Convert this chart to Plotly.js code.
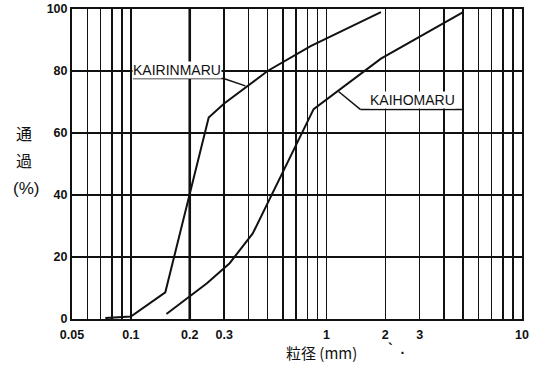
<!DOCTYPE html>
<html>
<head>
<meta charset="utf-8">
<script src="https://cdn.plot.ly/plotly-3.0.1.min.js"></script>
<style>
  html, body { margin: 0; padding: 0; background: #fff; }
  #chart { width: 539px; height: 366px; }
</style>
</head>
<body>
<div id="chart"></div>
<script>
// Grain size distribution (passing percentage vs. grain diameter, log scale)
const kairinmaruSize = [0.074, 0.1, 0.15, 0.25, 0.3, 0.4, 0.5, 0.83, 1.9];
const kairinmaruPass = [0.3, 0.8, 8.6, 65, 69.5, 75.5, 80, 88, 99];

const kaihomaruSize = [0.152, 0.245, 0.32, 0.42, 0.86, 1.9, 5.0];
const kaihomaruPass = [1.6, 11.5, 18, 27.6, 67.7, 84, 99];

// Vertical grid positions and their labels (blank = unlabeled grid line)
const xGridVals = [0.05, 0.06, 0.07, 0.08, 0.09, 0.1, 0.2, 0.3, 0.4, 0.5, 0.6, 0.7, 0.8, 0.9,
                   1, 2, 3, 4, 5, 6, 7, 8, 9, 10];
const xGridText = ['0.05', '', '', '', '', '0.1', '0.2', '0.3', '', '', '', '', '', '',
                   '1', '2', '3', '', '', '', '', '', '', '10'];
const yTickVals = [0, 20, 40, 60, 80, 100];

const ink = '#111';
const lineStyle = { color: ink, width: 2 };

const traces = [
  { x: kairinmaruSize, y: kairinmaruPass, mode: 'lines', line: lineStyle, hoverinfo: 'skip', name: 'KAIRINMARU' },
  { x: kaihomaruSize, y: kaihomaruPass, mode: 'lines', line: lineStyle, hoverinfo: 'skip', name: 'KAIHOMARU' }
];

const sans = 'Liberation Sans, Arial, sans-serif';
const tickFont = { family: sans, size: 12.5, color: ink, weight: 'bold' };
const labelFont = { family: sans, size: 14, color: ink };
const cjkFont = { family: 'Noto Sans CJK JP, Noto Sans CJK TC, sans-serif', size: 16, color: ink };

const layout = {
  width: 539,
  height: 366,
  margin: { l: 72, r: 17, t: 9, b: 47 },
  paper_bgcolor: '#fff',
  plot_bgcolor: '#fff',
  showlegend: false,
  xaxis: {
    type: 'log',
    range: [Math.log10(0.05), 1],
    tickmode: 'array',
    tickvals: xGridVals,
    ticktext: xGridText,
    showgrid: true,
    gridcolor: ink,
    gridwidth: 1.5,
    ticks: '',
    ticklabelstandoff: 3,
    showline: true,
    mirror: true,
    linecolor: ink,
    linewidth: 2,
    zeroline: false,
    tickfont: tickFont
  },
  yaxis: {
    range: [0, 100],
    tickmode: 'array',
    tickvals: yTickVals,
    showgrid: true,
    gridcolor: ink,
    gridwidth: 1.5,
    ticks: '',
    showline: true,
    mirror: true,
    linecolor: ink,
    linewidth: 2,
    zeroline: false,
    tickfont: tickFont
  },
  shapes: [
    // heavier grid line at 0.2 mm
    { type: 'line', xref: 'x', yref: 'y', x0: 0.2, x1: 0.2, y0: 0, y1: 100, line: { color: ink, width: 2.6 } },
    // KAIRINMARU underline and leader
    { type: 'line', xref: 'x', yref: 'y', x0: 0.1025, x1: 0.298, y0: 77.6, y1: 77.6, line: { color: ink, width: 1.5 } },
    { type: 'line', xref: 'x', yref: 'y', x0: 0.298, x1: 0.385, y0: 77.6, y1: 75.2, line: { color: ink, width: 1.5 } },
    // KAIHOMARU underline and leader
    { type: 'line', xref: 'x', yref: 'y', x0: 1.49, x1: 4.93, y0: 67.6, y1: 67.6, line: { color: ink, width: 1.5 } },
    { type: 'line', xref: 'x', yref: 'y', x0: 1.49, x1: 1.153, y0: 67.6, y1: 73.4, line: { color: ink, width: 1.5 } }
  ],
  annotations: [
    { x: Math.log10(0.173), y: 80.4, xref: 'x', yref: 'y', text: 'KAIRINMARU', showarrow: false,
      xanchor: 'center', yanchor: 'middle', font: labelFont, bgcolor: '#fff', borderpad: 0 },
    { x: Math.log10(2.76), y: 70.6, xref: 'x', yref: 'y', text: 'KAIHOMARU', showarrow: false,
      xanchor: 'center', yanchor: 'middle', font: labelFont, bgcolor: '#fff', borderpad: 0 },
    // vertical axis caption
    { px: 24, py: 133, text: '通', font: cjkFont },
    { px: 24, py: 160, text: '過', font: cjkFont },
    { px: 26, py: 188, text: '(%)', font: { family: sans, size: 17, color: ink } },
    // horizontal axis caption
    { px: 321, py: 352, text: '粒径 (mm)', font: { family: 'Noto Sans CJK JP, sans-serif', size: 15, color: ink } },
    { px: 396, py: 349, text: '`  .', font: { family: sans, size: 14, color: ink, weight: 'bold' } }
  ]
};

// Caption annotations are given in pixels from the top-left; convert to paper fractions.
const plotW = layout.width - layout.margin.l - layout.margin.r;
const plotH = layout.height - layout.margin.t - layout.margin.b;
layout.annotations = layout.annotations.map(a => {
  if (a.px === undefined) return a;
  return {
    x: (a.px - layout.margin.l) / plotW,
    y: (layout.height - a.py - layout.margin.b) / plotH,
    xref: 'paper', yref: 'paper', xanchor: 'center', yanchor: 'middle',
    text: a.text, font: a.font, showarrow: false
  };
});

Plotly.newPlot('chart', traces, layout, { staticPlot: true, displayModeBar: false });
</script>
</body>
</html>
